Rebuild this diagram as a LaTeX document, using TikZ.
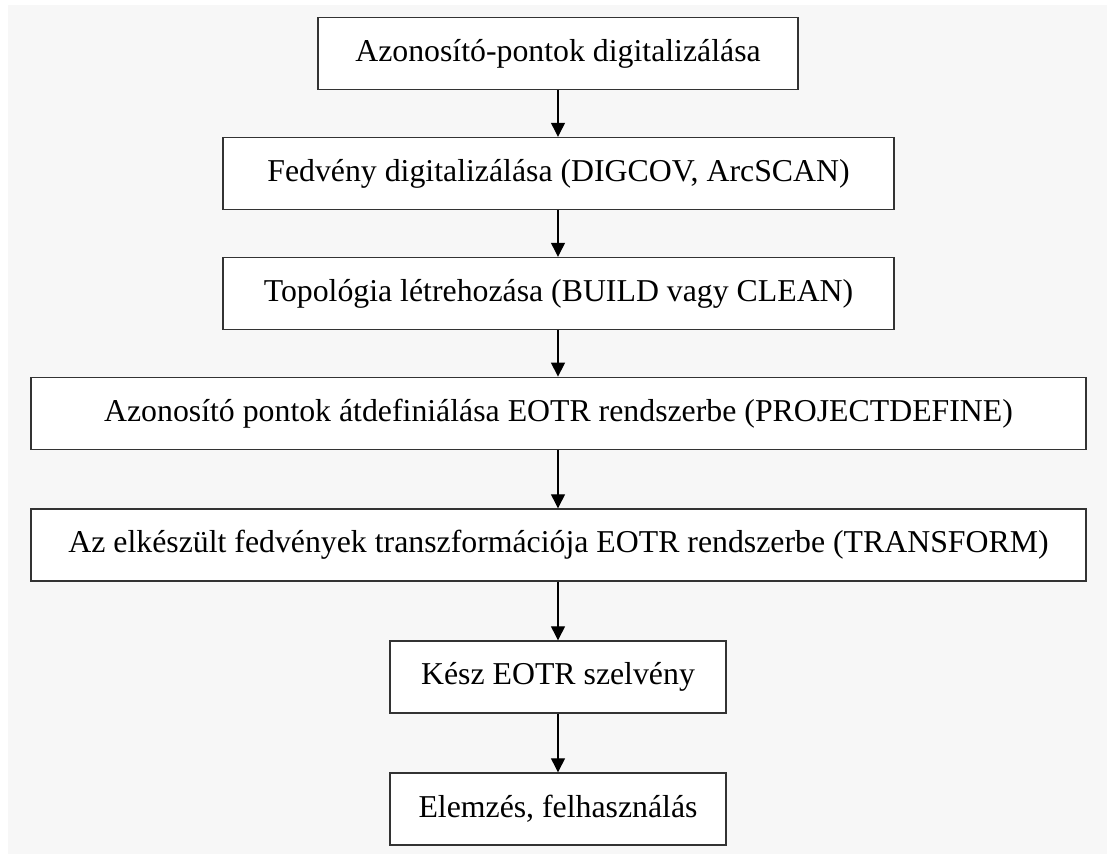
\documentclass[tikz,border=0pt]{standalone}
\usepackage{fontspec}
\setmainfont{Liberation Serif}
\usetikzlibrary{arrows.meta}
\begin{document}
\begin{tikzpicture}[x=1pt,y=-1pt,
  stepbox/.style={draw=black!80,line width=1.4pt,fill=white,inner sep=0pt,
    minimum height=72pt,font=\fontsize{31.8}{36}\selectfont,anchor=center},
  flow/.style={draw=black,line width=1.2pt,-{Triangle[width=14pt,length=14pt]}}]
\useasboundingbox (0,0) rectangle (1107,854);
\fill[white] (0,0) rectangle (1107,854);
\fill[black!3] (8,5) rectangle (1107,854);
\node[stepbox,minimum width=480pt] (b1) at (558,53.7) {Azonosító-pontok digitalizálása};
\node[stepbox,minimum width=671pt] (b2) at (558.5,173.5) {Fedvény digitalizálása (DIGCOV, ArcSCAN)};
\node[stepbox,minimum width=671pt] (b3) at (558.5,293.5) {Topológia létrehozása (BUILD vagy CLEAN)};
\node[stepbox,minimum width=1055pt] (b4) at (558.5,413.3) {Azonosító pontok átdefiniálása EOTR rendszerbe (PROJECTDEFINE)};
\node[stepbox,minimum width=1055pt] (b5) at (558.5,545) {Az elkészült fedvények transzformációja EOTR rendszerbe (TRANSFORM)};
\node[stepbox,minimum width=336pt] (b6) at (558,677) {Kész EOTR szelvény};
\node[stepbox,minimum width=336pt] (b7) at (558,809) {Elemzés, felhasználás};
\draw[flow] (b1.south -| 558,0) -- (b2.north -| 558,0);
\draw[flow] (b2.south -| 558,0) -- (b3.north -| 558,0);
\draw[flow] (b3.south -| 558,0) -- (b4.north -| 558,0);
\draw[flow] (b4.south -| 558,0) -- (b5.north -| 558,0);
\draw[flow] (b5.south -| 558,0) -- (b6.north -| 558,0);
\draw[flow] (b6.south -| 558,0) -- (b7.north -| 558,0);
\end{tikzpicture}
\end{document}
